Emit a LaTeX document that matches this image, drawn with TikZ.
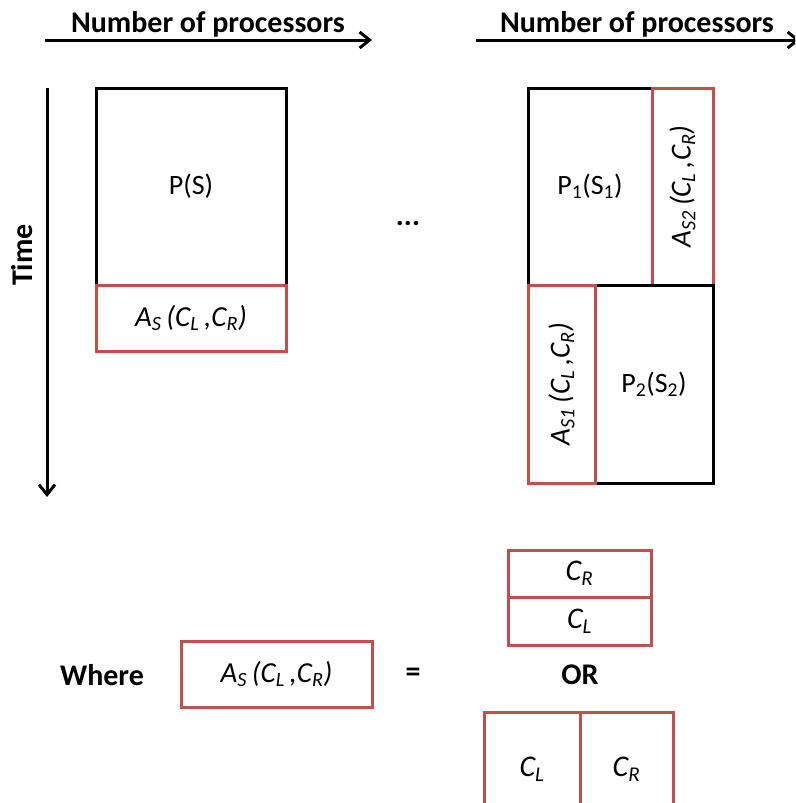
\documentclass[tikz,border=0pt]{standalone}
\usepackage{fontspec}
\setmainfont{Carlito}
\usetikzlibrary{arrows.meta}
\definecolor{boxred}{RGB}{192,80,77}
\newcommand\headfont{\fontsize{30}{36}\selectfont\bfseries}
\newcommand\boxfont{\fontsize{28}{32}\selectfont}
\newcommand\AS[1]{{\fontsize{29}{32}\selectfont\textit{A\textsubscript{#1}\,(C\textsubscript{L}\,,C\textsubscript{R})}}}
\newcommand\CC[1]{{\fontsize{30}{32}\selectfont\textit{C\textsubscript{#1}}}}

\begin{document}
\begin{tikzpicture}[x=1pt,y=-1pt,
    blackbox/.style={draw=black,line width=3pt,inner sep=0pt,font=\boxfont},
    redbox/.style={draw=boxred,line width=3pt,inner sep=0pt,font=\boxfont},
    heading/.style={font=\headfont},
    axis/.style={line width=3pt,-{Straight Barb[length=10pt,width=16pt]}}]
    \clip (0,0) rectangle (795,803);

    % axes
    \coordinate (procstartA) at (45,40);
    \coordinate (procendA) at (372,40);
    \coordinate (procstartB) at (476,40);
    \coordinate (procendB) at (800,40);
    \coordinate (timestart) at (47,88);
    \coordinate (timeend) at (47,497);
    \draw[axis] (procstartA) -- (procendA);
    \draw[axis] (procstartB) -- (procendB);
    \draw[axis] (timestart) -- (timeend);
    \node[heading,anchor=base] (procA) at (208,32) {Number of processors};
    \node[heading,anchor=base] (procB) at (637,32) {Number of processors};
    \node[heading,anchor=base,rotate=90] (time) at (32,255) {Time};

    % sequential case
    \node[blackbox,minimum width=190,minimum height=197] (ps) at (191,186.5) {P(S)};
    \node[redbox,minimum width=190,minimum height=66] (as) at (191,318) {\AS{S}};

    \node[heading,anchor=base] (dots) at (408,225) {...};

    % split case
    \node[blackbox,minimum width=124,minimum height=197] (pone) at (590,186.5) {P\textsubscript{1}(S\textsubscript{1})};
    \node[redbox,rotate=90,minimum width=197,minimum height=61] (astwo) at (682.5,186.5) {\AS{S2}};
    \node[blackbox,minimum width=118,minimum height=198] (ptwo) at (654,384) {P\textsubscript{2}(S\textsubscript{2})};
    \node[redbox,rotate=90,minimum width=198,minimum height=67] (asone) at (561.5,384) {\AS{S1}};

    % legend
    \node[heading] (where) at (102,675) {Where};
    \node[redbox,minimum width=191,minimum height=66] (aslegend) at (276.5,674) {\AS{S}};
    \node[heading] (equals) at (413,675) {=};
    \node[heading] (or) at (580,675) {OR};
    \node[redbox,minimum width=143,minimum height=47] (crtop) at (579.5,573.5) {\CC{R}};
    \node[redbox,minimum width=143,minimum height=48] (cltop) at (579.5,621) {\CC{L}};
    \node[redbox,minimum width=96,minimum height=114] (clside) at (532,769) {\CC{L}};
    \node[redbox,minimum width=93,minimum height=114] (crside) at (626.5,769) {\CC{R}};
\end{tikzpicture}
\end{document}
